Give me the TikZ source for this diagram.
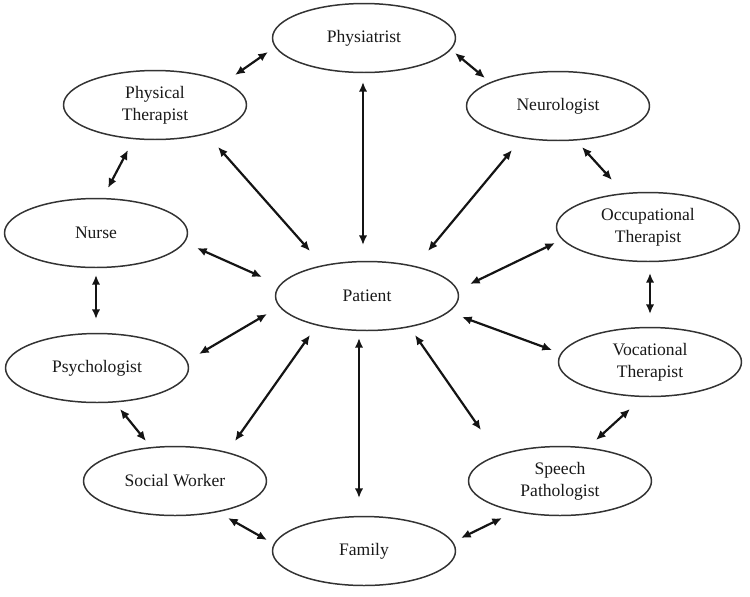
\documentclass[tikz,border=0pt]{standalone}
\usepackage{fontspec}
\setmainfont{Liberation Serif}
\usetikzlibrary{shapes.geometric,calc,arrows.meta}
\begin{document}
\begin{tikzpicture}[x=0.02cm,y=-0.02cm,
  role/.style={ellipse,draw=black!80,line width=0.85pt,minimum width=3.66cm,minimum height=1.38cm,
    inner sep=0pt,align=center,text=black!90,font=\fontsize{10}{12.5}\selectfont},
  link/.style={{Latex[length=5.5pt,width=4.8pt]}-{Latex[length=5.5pt,width=4.8pt]},line width=1.25pt,draw=black!92}]
\useasboundingbox (0,0) rectangle (750,596);
\node[role] (phy) at (364,38) {Physiatrist};
\node[role] (pt) at (155,105) {Physical\\Therapist};
\node[role] (neu) at (558,106) {Neurologist};
\node[role] (nurse) at (96,233) {Nurse};
\node[role] (ot) at (648,227) {Occupational\\Therapist};
\node[role] (pat) at (367,296) {Patient};
\node[role] (psy) at (97,368) {Psychologist};
\node[role] (voc) at (650,362) {Vocational\\Therapist};
\node[role] (sw) at (175,481) {Social Worker};
\node[role] (sp) at (560,481) {Speech\\Pathologist};
\node[role] (fam) at (364,551) {Family};

\draw[link] ($(phy)+(-96,14)$) -- ($(pt)+(80,-30)$);
\draw[link] ($(pt)+(-27,45)$) -- ($(nurse)+(12,-45)$);
\draw[link] ($(pt)+(63,42)$) -- ($(pat)+(-57,-45)$);
\draw[link] ($(phy)+(-1,44)$) -- ($(pat)+(-4,-51)$);
\draw[link] ($(nurse)+(101,15)$) -- ($(pat)+(-105,-19)$);
\draw[link] ($(nurse)+(0,42)$) -- ($(psy)+(-1,-49)$);
\draw[link] ($(phy)+(91,15)$) -- ($(neu)+(-73,-28)$);
\draw[link] ($(neu)+(-46,44)$) -- ($(pat)+(61,-45)$);
\draw[link] ($(neu)+(24,41)$) -- ($(ot)+(-36,-47)$);
\draw[link] ($(ot)+(-93,16)$) -- ($(pat)+(103,-12)$);
\draw[link] ($(ot)+(2,46)$) -- ($(voc)+(0,-48)$);
\draw[link] ($(pat)+(-100,18)$) -- ($(psy)+(102,-14)$);
\draw[link] ($(pat)+(-57,39)$) -- ($(sw)+(60,-40)$);
\draw[link] ($(pat)+(-8,42)$) -- ($(fam)+(-5,-53)$);
\draw[link] ($(psy)+(23,41)$) -- ($(sw)+(-29,-40)$);
\draw[link] ($(sw)+(53,37)$) -- ($(fam)+(-97,-11)$);
\draw[link] ($(pat)+(95,21)$) -- ($(voc)+(-98,-12)$);
\draw[link] ($(pat)+(48,39)$) -- ($(sp)+(-79,-51)$);
\draw[link] ($(voc)+(-20,47)$) -- ($(sp)+(36,-41)$);
\draw[link] ($(fam)+(97,-13)$) -- ($(sp)+(-58,37)$);
\end{tikzpicture}
\end{document}
